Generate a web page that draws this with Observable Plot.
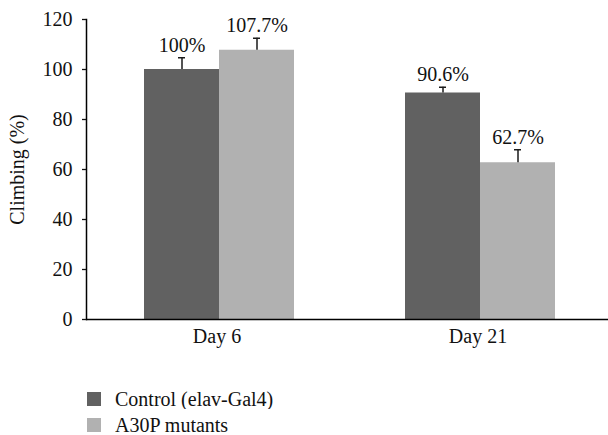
<!DOCTYPE html>
<html><head><meta charset="utf-8">
<script src="https://cdn.jsdelivr.net/npm/d3@7"></script>
<script src="https://cdn.jsdelivr.net/npm/@observablehq/plot@0.6"></script>
<style>
body{margin:0;background:#fff;overflow:hidden;}
#legend{margin-left:87px;margin-top:16px;}
#legend > *{margin:0 !important;line-height:20px;}
.lg-swatch{height:26px;padding-bottom:0 !important;line-height:20px;}
.lg-swatch > svg{margin-right:14px !important;}
</style></head><body><div id="chart"></div><div id="legend"></div><script>
const days = ["Day 6", "Day 21"];
const series = ["Control (elav-Gal4)", "A30P mutants"];
const seriesColors = ["#616161", "#b1b1b1"];
const controlValues = [100, 90.6];
const mutantValues = [107.7, 62.7];
const controlErrors = [4.7, 2.3];
const mutantErrors = [4.8, 5.2];
const yTicks = [0, 20, 40, 60, 80, 100, 120];

const data = days.flatMap((day, i) => [
  {day, series: series[0], value: controlValues[i], err: controlErrors[i]},
  {day, series: series[1], value: mutantValues[i], err: mutantErrors[i]}
]);
const font = "'Liberation Serif', 'Times New Roman', serif";
const chart = Plot.plot({
  width: 608, height: 370, marginTop: 19, marginBottom: 51, marginLeft: 86, marginRight: 0,
  style: {fontFamily: font, fontSize: "20px", color: "#111", background: "#fff"},
  fx: {domain: days, padding: 0},
  x: {domain: series, paddingInner: 0, paddingOuter: 0.74, align: 0.52, axis: null},
  y: {domain: [0, 120]},
  color: {domain: series, range: seriesColors},
  marks: [
    Plot.barY(data, {fx: "day", x: "series", y: "value", fill: "series"}),
    Plot.ruleX(data, {fx: "day", x: "series", y1: "value", y2: d => d.value + d.err, stroke: "#1a1a1a", strokeWidth: 1.5}),
    Plot.tickY(data, {fx: "day", x: "series", y: d => d.value + d.err, stroke: "#1a1a1a", strokeWidth: 1.5, insetLeft: 34, insetRight: 34}),
    Plot.text(data, {fx: "day", x: "series", y: d => d.value + d.err, text: d => `${d.value}%`, dy: -6, lineAnchor: "bottom", fill: "#111"}),
    Plot.ruleY([0], {stroke: "#000", strokeWidth: 1.5}),
    Plot.frame({anchor: "left", facetAnchor: "left", stroke: "#000", strokeWidth: 1.5}),
    Plot.axisY({ticks: yTicks, tickSize: 4, tickPadding: 10, strokeWidth: 1.3, label: "Climbing (%)", labelAnchor: "center", labelArrow: "none", labelOffset: 77, tickFormat: d => d}),
    Plot.axisFx({anchor: "bottom", tickSize: 0, tickPadding: 9, label: null})
  ]
});
document.getElementById("chart").append(chart);
const legend = Plot.legend({
  color: {domain: series, range: seriesColors},
  legend: "swatches", columns: 1, swatchSize: 14, className: "lg",
  style: {fontFamily: font, fontSize: "20px", color: "#111"}
});
document.getElementById("legend").append(legend);
</script></body></html>
